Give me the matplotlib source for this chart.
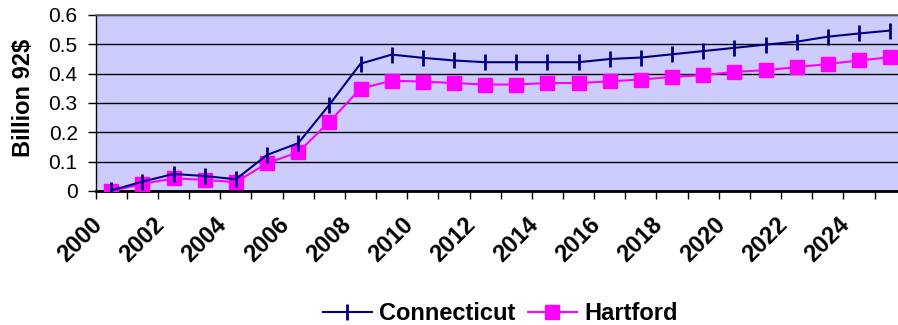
import matplotlib
matplotlib.use("Agg")
import matplotlib.pyplot as plt
import matplotlib.transforms as mtransforms
import numpy as np

years = list(range(2000, 2026))
connecticut = [0.002, 0.032, 0.058, 0.051, 0.040, 0.123, 0.163, 0.294, 0.434, 0.465,
               0.454, 0.445, 0.439, 0.439, 0.439, 0.439, 0.450, 0.455, 0.466, 0.477,
               0.488, 0.499, 0.509, 0.526, 0.537, 0.547]
hartford = [0.000, 0.024, 0.043, 0.038, 0.030, 0.095, 0.132, 0.236, 0.349, 0.376,
            0.373, 0.368, 0.363, 0.363, 0.368, 0.368, 0.374, 0.380, 0.389, 0.395,
            0.406, 0.412, 0.422, 0.433, 0.445, 0.456]
yticks = [0, 0.1, 0.2, 0.3, 0.4, 0.5, 0.6]
ytick_labels = ["0", "0.1", "0.2", "0.3", "0.4", "0.5", "0.6"]

plt.rcParams['font.family'] = ['Liberation Sans', 'DejaVu Sans']

fig = plt.figure(figsize=(8.98, 3.25), dpi=100)
# plot area runs past the right edge of the picture (cropped, as in the reference)
ax = fig.add_axes([95.7/898, 1-191/325, 810/898, (191-15)/325])
ax.set_facecolor('#CCCCFF')

x = np.arange(len(years))
ax.plot(x, connecticut, color='#000080', lw=1.5, marker='|', markersize=11,
        mew=2, label='Connecticut', zorder=4)
ax.plot(x, hartford, color='#FF00FF', lw=1.5, marker='s', markersize=10,
        label='Hartford', zorder=3)

ax.set_xlim(-0.5, len(years) - 0.5)
ax.set_ylim(0, 0.6)
ax.set_yticks(yticks)
ax.set_yticklabels(ytick_labels, fontsize=15)
ax.yaxis.grid(True, color='black', lw=1)
ax.set_axisbelow(True)

# category boundaries as ticks, labels at category centers
ax.set_xticks(np.arange(-0.5, len(years)), minor=False)
ax.set_xticklabels([])
lab_pos = x[::2]
ax.set_xticks(lab_pos, minor=True)
ax.set_xticklabels([str(years[i]) for i in lab_pos], minor=True, rotation=45,
                   ha='right', va='top', rotation_mode='anchor',
                   fontsize=17, fontweight='bold')
ax.tick_params(axis='x', which='minor', length=0, pad=16)
ax.tick_params(axis='x', which='major', length=6, width=1, direction='out', color='black')
ax.tick_params(axis='y', length=6, width=1, direction='out', pad=7)

offset = mtransforms.ScaledTranslation(-21/100, 0, fig.dpi_scale_trans)
for lab in ax.get_xticklabels(minor=True):
    lab.set_transform(lab.get_transform() + offset)

ax.set_ylabel('Billion 92$', fontsize=17, fontweight='bold')
ax.yaxis.set_label_coords(-0.075, 0.53)

ax.spines['top'].set_color('#606060')
ax.spines['top'].set_linewidth(1.2)
ax.spines['right'].set_visible(False)
ax.spines['bottom'].set_color('black')
ax.spines['bottom'].set_linewidth(2)
ax.spines['left'].set_color('black')
ax.spines['left'].set_linewidth(1)

leg = fig.legend(loc='center', bbox_to_anchor=(0.557, 0.035), ncol=2, frameon=False,
                 prop={'size': 17, 'weight': 'bold'}, handlelength=2.1,
                 columnspacing=0.5, handletextpad=0.3)

fig.savefig('out.png', dpi=100)
